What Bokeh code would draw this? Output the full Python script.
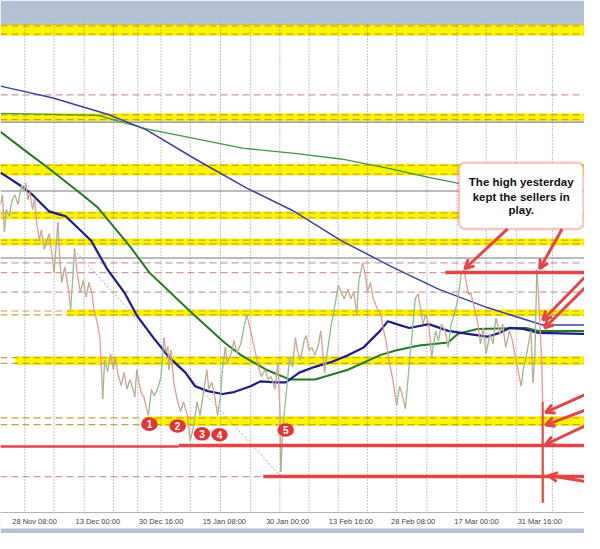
from bokeh.plotting import figure
from bokeh.models import Range1d, FixedTicker, BoxAnnotation, Arrow, OpenHead
from bokeh.embed import file_html
from bokeh.resources import INLINE
from bokeh.core.properties import value

# ---------------- data (x: chart column units, y: price level in chart units, 0 = top) -------------
time_ticks = [35, 100, 165, 230, 295, 360, 424, 489, 554]
time_labels = ["28 Nov 08:00", "13 Dec 00:00", "30 Dec 16:00", "15 Jan 08:00", "30 Jan 00:00",
               "13 Feb 16:00", "28 Feb 08:00", "17 Mar 00:00", "31 Mar 16:00"]
grid_x = [25, 55, 86, 116, 141, 165, 195, 226, 257, 287, 317, 347, 377, 407, 438, 469, 499, 530, 567]

# price path (highs / lows as read)
price_x = [0, 2, 4, 6, 9, 12, 15, 18, 20, 22, 24, 26, 28, 30, 33, 35, 37, 40, 42, 45, 48, 50, 53, 55, 57, 59,
           61, 63, 66, 70, 72, 74, 76, 79, 82, 85, 88, 91, 94, 96, 99, 102, 104, 105, 107, 110, 113, 116, 118,
           121, 124, 127, 130, 133, 135, 138, 140, 142, 145, 147, 150, 152, 155, 158, 162, 165, 168, 170, 172,
           173, 175, 178, 182, 185, 188, 192, 195, 198, 202, 205, 208, 212, 214, 217, 220, 223, 226, 228, 231,
           233, 237, 240, 243, 247, 250, 253, 257, 259, 262, 265, 268, 272, 275, 278, 282, 285, 287, 288, 290,
           292, 294, 297, 300, 303, 305, 308, 312, 314, 317, 320, 323, 327, 329, 333, 336, 340, 343, 347, 350,
           353, 357, 360, 363, 366, 368, 372, 375, 377, 380, 383, 387, 391, 393, 396, 399, 403, 405, 407, 410,
           413, 416, 418, 421, 423, 426, 429, 432, 434, 437, 440, 443, 447, 450, 453, 457, 460, 463, 467, 470,
           473, 476, 478, 481, 483, 487, 490, 493, 496, 499, 503, 506, 509, 513, 516, 519, 523, 526, 529, 533,
           535, 537, 540, 543, 545, 547, 549, 551, 553, 554, 556, 557, 558]
price_y = [210, 200, 238, 215, 222, 205, 200, 210, 198, 190, 196, 188, 205, 197, 215, 203, 228, 246, 236, 256,
           246, 240, 262, 280, 255, 228, 268, 290, 274, 298, 318, 290, 255, 282, 300, 288, 305, 290, 302, 318,
           330, 346, 385, 410, 370, 382, 364, 380, 367, 386, 396, 383, 400, 390, 396, 408, 380, 392, 405, 407,
           420, 427, 400, 407, 398, 387, 347, 362, 356, 380, 360, 393, 413, 423, 413, 427, 453, 440, 413, 427,
           407, 380, 400, 393, 407, 427, 407, 380, 357, 373, 363, 350, 363, 353, 337, 323, 340, 350, 363, 377,
           387, 380, 390, 387, 400, 373, 420, 485, 440, 420, 400, 367, 377, 347, 360, 370, 350, 345, 360, 357,
           365, 353, 340, 383, 360, 333, 317, 293, 300, 307, 297, 307, 300, 322, 290, 270, 283, 300, 290, 307,
           317, 323, 337, 350, 370, 390, 403, 417, 397, 407, 420, 397, 363, 343, 307, 302, 320, 333, 323, 333,
           367, 340, 350, 333, 340, 357, 333, 320, 307, 283, 277, 287, 303, 300, 317, 330, 353, 337, 363, 343,
           353, 327, 343, 333, 357, 340, 350, 367, 387, 397, 380, 367, 350, 340, 393, 367, 277, 307, 330, 370,
           413, 517]

# final sell-off candle (highlighted in red)
spike_x = [557]
spike_top = [413]
spike_bottom = [517]

# moving averages
ma_slow_blue_x = [0, 53, 110, 150, 200, 253, 300, 350, 400, 450, 500, 557, 600]
ma_slow_blue_y = [88, 100, 117, 133, 163, 193, 216, 247, 273, 297, 316, 334, 334]
ma_slow_green_x = [0, 50, 100, 150, 200, 250, 300, 350, 400, 440, 480]
ma_slow_green_y = [116, 117, 118, 132, 142, 152, 157, 163, 173, 182, 190]
ma_mid_green_x = [0, 30, 50, 83, 100, 133, 153, 195, 230, 247, 273, 297, 323, 357, 390, 407, 430, 460, 470, 490,
                  540, 553, 600]
ma_mid_green_y = [135, 158, 173, 199, 213, 253, 280, 320, 352, 365, 380, 390, 390, 380, 365, 360, 355, 352, 343,
                  338, 337, 340, 340]
ma_fast_blue_x = [0, 20, 33, 50, 60, 67, 93, 110, 127, 140, 157, 173, 190, 200, 213, 228, 240, 257, 267, 283, 293,
                  307, 323, 340, 357, 373, 390, 398, 407, 420, 440, 460, 480, 500, 513, 523, 537, 553, 600]
ma_fast_blue_y = [177, 190, 200, 217, 220, 222, 247, 277, 300, 324, 347, 367, 383, 397, 402, 405, 403, 397, 392,
                  393, 393, 383, 377, 372, 365, 357, 340, 330, 333, 337, 333, 340, 343, 346, 342, 337, 338, 342, 343]

# horizontal levels
band_top = [24.5, 116, 168, 217, 245, 318, 366, 428]
band_bottom = [36, 124, 180, 225, 252, 325, 375, 438]
band_start = [0, 0, 0, 0, 0, 68, 15, 150]
pink_dash_y = [97, 270, 280, 300, 490]
pink_dash_end = [600, 600, 600, 600, 270]
gray_line_y = [125, 196, 265]
red_line_x0 = [0, 183, 270, 457]
red_line_x1 = [183, 600, 600, 600]
red_line_y = [459, 458, 490, 280]
trend_x = [76, 288]
trend_y = [257, 490]

# swing lows numbered
low_num = ["1", "2", "3", "4", "5"]
low_x = [153, 182, 207, 225, 293]
low_y = [436, 438, 446, 447, 442]

# arrows (start -> end)
arr_x0 = [521, 577, 600, 600, 600, 600, 600, 600]
arr_y0 = [235, 235, 285, 296, 406, 422, 438, 495]
arr_x1 = [477, 554, 557, 559, 560, 560, 560, 563]
arr_y1 = [276, 276, 329, 337, 424, 437, 457, 489]

callout_lines = ["The high yesterday", "kept the sellers in", "play."]
callout_line_y = [187, 202, 216]
callout_box = dict(left=471, right=599, top=167, bottom=235)

# ---------------- styles -------------
RED = "#e64545"
YELLOW = "#fbf400"
FONT = "Liberation Sans"
TOP_Y = 23.5
CHROME = "#b4c1d3"

p = figure(width=584, height=533, x_range=Range1d(0, 600), y_range=Range1d(527, TOP_Y),
           output_backend="svg", toolbar_location=None, y_axis_location=None,
           min_border_left=0, min_border_right=0, min_border_top=23, min_border_bottom=21,
           background_fill_color="white", border_fill_color=CHROME)
p.outline_line_color = None
p.xgrid.visible = False
p.ygrid.visible = False

ax = p.xaxis[0]
ax.ticker = FixedTicker(ticks=time_ticks)
ax.major_label_overrides = {t: l for t, l in zip(time_ticks, time_labels)}
ax.major_tick_line_color = None
ax.minor_tick_line_color = None
ax.major_tick_out = 0
ax.major_tick_in = 0
ax.major_label_standoff = 4
ax.axis_label_standoff = 0
ax.axis_line_color = "#b4b4b4"
ax.major_label_text_font_size = "7.5px"
ax.major_label_text_color = "#454545"
ax.major_label_text_font = FONT
try:
    ax.background_fill_color = "white"
except Exception:
    pass

# darker bottom edge of the title bar
p.segment(x0=[0], x1=[600], y0=[TOP_Y + 0.6], y1=[TOP_Y + 0.6], line_color="#8e9aab", line_width=2)

# yellow bands
p.quad(left=band_start, right=[600] * len(band_top), top=band_top, bottom=band_bottom,
       fill_color=YELLOW, line_color=None)
edge_y = [t + 1.5 for t in band_top] + [b - 1.5 for b in band_bottom]
p.segment(x0=[0] * len(edge_y), x1=[600] * len(edge_y), y0=edge_y, y1=edge_y,
          line_color="#c9a247", line_width=1.2, line_dash="7 4")
p.segment(x0=[0] * len(pink_dash_y), x1=pink_dash_end, y0=pink_dash_y, y1=pink_dash_y,
          line_color="#cf9d9d", line_width=1.3, line_dash="7 4")
p.segment(x0=[0] * len(gray_line_y), x1=[600] * len(gray_line_y), y0=gray_line_y, y1=gray_line_y,
          line_color="#a6a6a6", line_width=1.6)

# vertical grid
p.segment(x0=grid_x, x1=grid_x, y0=[TOP_Y] * len(grid_x), y1=[527] * len(grid_x),
          line_color="#8c8c8c", line_width=1, line_dash="1 2")

# trend dotted line
p.line(trend_x, trend_y, line_color="#a8a8a8", line_width=1, line_dash="2 2")

# moving averages
p.line(ma_slow_green_x, ma_slow_green_y, line_color="#3f9a45", line_width=1.3)
p.line(ma_slow_blue_x, ma_slow_blue_y, line_color="#4040a4", line_width=1.5)
p.line(ma_mid_green_x, ma_mid_green_y, line_color="#237a23", line_width=2)
p.line(ma_fast_blue_x, ma_fast_blue_y, line_color="#1c1c8e", line_width=2.2)

# price path: segments coloured by direction
seg_col = ["#8fbf8a" if b < a else "#e59a95" for a, b in zip(price_y[:-1], price_y[1:])]
p.segment(x0=price_x[:-1], x1=price_x[1:], y0=price_y[:-1], y1=price_y[1:],
          line_color=seg_col, line_width=1.3)
p.segment(x0=spike_x, x1=spike_x, y0=spike_top, y1=spike_bottom, line_color=RED, line_width=2)

# red support/resistance lines
p.segment(x0=red_line_x0, x1=red_line_x1, y0=red_line_y, y1=red_line_y,
          line_color=RED, line_width=[2.5, 3.5, 3.5, 3.5])

# numbered lows
p.ellipse(x=low_x, y=low_y, width=17, height=14, fill_color="#e23636", line_color=None)
p.text(x=low_x, y=low_y, text=low_num, text_align="center", text_baseline="middle",
       text_color="white", text_font=value(FONT), text_font_size="10px", text_font_style="bold")

# callout box
p.add_layout(BoxAnnotation(fill_color="white", fill_alpha=1.0, line_color=RED, line_width=2.5,
                           border_radius=6, **callout_box))
for xs, ys, xe, ye in zip(arr_x0, arr_y0, arr_x1, arr_y1):
    p.add_layout(Arrow(end=OpenHead(line_color=RED, line_width=3, size=9),
                       x_start=xs, y_start=ys, x_end=xe, y_end=ye, line_color=RED, line_width=3))

cx = (callout_box["left"] + callout_box["right"]) / 2
p.text(x=[cx] * len(callout_lines), y=callout_line_y, text=callout_lines, text_align="center",
       text_baseline="middle", text_color="#111111", text_font=value(FONT), text_font_size="11.5px",
       text_font_style="bold", level="overlay")

open("out.html", "w").write(file_html(p, INLINE))
